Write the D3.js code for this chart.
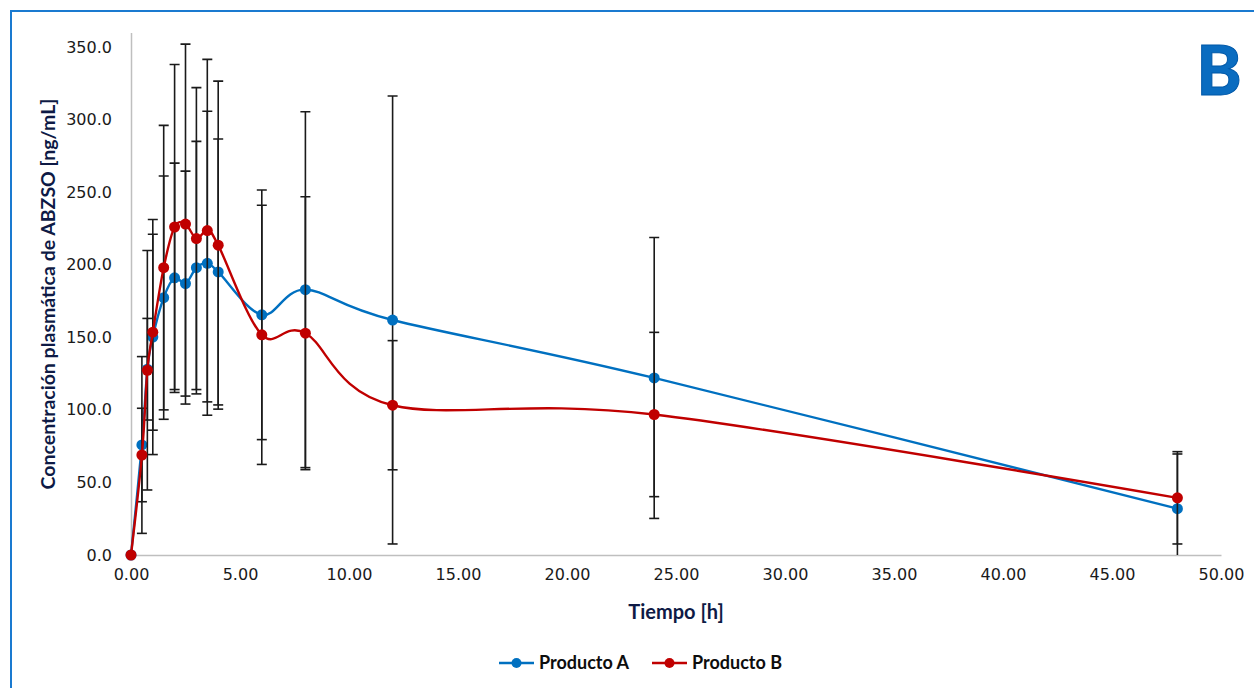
<!DOCTYPE html>
<html><head><meta charset="utf-8">
<script src="https://cdn.jsdelivr.net/npm/d3@7"></script>
<style>
html,body{margin:0;padding:0;background:#fff;}
svg{display:block;}
</style></head>
<body>
<svg id="chart" width="1254" height="688"></svg>
<script>
// ---- data ----
const times = [0, 0.5, 0.75, 1, 1.5, 2, 2.5, 3, 3.5, 4, 6, 8, 12, 24, 48];
const meanA = [0, 75.8, 128, 150.2, 177.3, 191, 187, 198, 201, 195, 165.5, 182.8, 161.9, 122, 31.9];
const sdA   = [0, 60.9, 35, 81, 83.8, 79, 77.5, 87, 104.7, 91.6, 86, 122.6, 154.3, 96.8, 37.7];
const meanB = [0, 68.9, 127.3, 153.5, 198, 226, 228, 218, 223.5, 213.5, 151.7, 152.8, 103.2, 96.8, 39.4];
const sdB   = [0, 32.2, 82.5, 67.5, 98, 112, 124, 104, 118, 113, 89.3, 94, 44.5, 56.6, 31.8];
const seriesNames = ["Producto A", "Producto B"];
const xTicks = [0, 5, 10, 15, 20, 25, 30, 35, 40, 45, 50];
const yTicks = [0, 50, 100, 150, 200, 250, 300, 350];
const xTitle = "Tiempo [h]";
const yTitle = "Concentración plasmática de ABZSO [ng/mL]";
const panelLabel = "B";

// ---- layout ----
const svg = d3.select("#chart");
const colors = ["#0070C0", "#C00000"];
const x = d3.scaleLinear().domain([0, 50]).range([131, 1221]);
const y = d3.scaleLinear().domain([0, 360]).range([555, 32.5]);

// frame
svg.append("rect").attr("x", 11).attr("y", 11).attr("width", 1260).attr("height", 700)
  .attr("fill", "none").attr("stroke", "#1A7AD0").attr("stroke-width", 2);

svg.append("defs").append("clipPath").attr("id", "plotclip")
  .append("rect").attr("x", 120).attr("y", y(360)).attr("width", 1120).attr("height", y(0) - y(360));

// axes
const xAxis = svg.append("g").attr("transform", `translate(0,${y(0)})`)
  .call(d3.axisBottom(x).tickValues(xTicks).tickFormat(d3.format(".2f")).tickSize(0).tickPadding(14));
const yAxis = svg.append("g").attr("transform", `translate(${x(0)},0)`)
  .call(d3.axisLeft(y).tickValues(yTicks).tickFormat(d3.format(".1f")).tickSize(0).tickPadding(19));
[xAxis, yAxis].forEach(g => {
  g.select(".domain").attr("stroke", "#BFBFBF").attr("stroke-width", 1.5);
  g.selectAll("text").attr("font-family", "DejaVu Sans").attr("font-size", 16).attr("fill", "#1a1a1a");
});

// titles
svg.append("text").attr("x", 676).attr("y", 619).attr("text-anchor", "middle")
  .attr("font-family", "Lato").attr("font-weight", "bold").attr("font-size", 20)
  .attr("fill", "#0E1A45").text(xTitle);
svg.append("text").attr("transform", "translate(55,294) rotate(-90)").attr("text-anchor", "middle")
  .attr("font-family", "Lato").attr("font-weight", "bold").attr("font-size", 19.5)
  .attr("fill", "#0E1A45").text(yTitle);
svg.append("text").attr("x", 1219).attr("y", 95).attr("text-anchor", "middle")
  .attr("font-family", "Lato").attr("font-weight", "900").attr("font-size", 68)
  .attr("fill", "#0A6CC0").attr("stroke", "#0058A8").attr("stroke-width", 1).text(panelLabel);

// series
const series = [
  {name: seriesNames[0], mean: meanA, sd: sdA, color: colors[0]},
  {name: seriesNames[1], mean: meanB, sd: sdB, color: colors[1]}
];
const plot = svg.append("g");
const line = d3.line().x(d => x(d.t)).y(d => y(d.v)).curve(d3.curveCardinal.tension(0));

series.forEach(s => {
  const pts = times.map((t, i) => ({t, v: s.mean[i], sd: s.sd[i]}));
  const eb = plot.append("g").attr("clip-path", "url(#plotclip)")
    .attr("stroke", "#1a1a1a").attr("stroke-width", 1.6);
  pts.filter(p => p.sd > 0).forEach(p => {
    const cx = x(p.t), yt = y(p.v + p.sd), yb = y(p.v - p.sd);
    eb.append("line").attr("x1", cx).attr("x2", cx).attr("y1", yt).attr("y2", yb);
    eb.append("line").attr("x1", cx - 5).attr("x2", cx + 5).attr("y1", yt).attr("y2", yt);
    eb.append("line").attr("x1", cx - 5).attr("x2", cx + 5).attr("y1", yb).attr("y2", yb);
  });
  plot.append("path").datum(pts).attr("d", line).attr("fill", "none")
    .attr("stroke", s.color).attr("stroke-width", 2.4);
  plot.append("g").selectAll("circle").data(pts).join("circle")
    .attr("cx", d => x(d.t)).attr("cy", d => y(d.v)).attr("r", 5.5).attr("fill", s.color);
});

// legend
const legendItems = [{x0: 499, tx: 539}, {x0: 652, tx: 692}];
series.forEach((s, i) => {
  const g = svg.append("g");
  const L = legendItems[i];
  g.append("line").attr("x1", L.x0).attr("x2", L.x0 + 35).attr("y1", 663).attr("y2", 663)
    .attr("stroke", s.color).attr("stroke-width", 2.4);
  g.append("circle").attr("cx", L.x0 + 17.5).attr("cy", 663).attr("r", 5).attr("fill", s.color);
  g.append("text").attr("x", L.tx).attr("y", 669).attr("font-family", "Lato").attr("font-weight", "bold")
    .attr("font-size", 18).attr("fill", "#0D0D0D").text(s.name);
});
</script>
</body></html>
